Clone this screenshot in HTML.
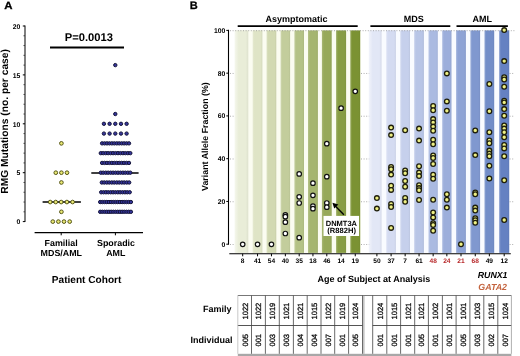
<!DOCTYPE html>
<html><head><meta charset="utf-8"><style>
html,body{margin:0;padding:0;background:#fff;width:520px;height:356px;overflow:hidden}
svg{display:block;font-family:"Liberation Sans", sans-serif;will-change:transform;text-rendering:geometricPrecision}
</style></head><body>
<svg width="520" height="356" viewBox="0 0 520 356">
<text transform="translate(4.2,9.3) scale(1.1,1)" font-size="10.4" font-weight="bold" stroke="#000" stroke-width="0.3">A</text>
<line x1="25.00" y1="25.50" x2="25.00" y2="222.10" stroke="#222" stroke-width="1.15" />
<line x1="22.80" y1="221.60" x2="25.00" y2="221.60" stroke="#000" stroke-width="1" />
<text x="20.30" y="224.30" font-size="6.8" text-anchor="end" font-weight="bold" fill="#000" >0</text>
<line x1="23.50" y1="211.82" x2="25.00" y2="211.82" stroke="#333" stroke-width="0.9" />
<line x1="23.50" y1="202.04" x2="25.00" y2="202.04" stroke="#333" stroke-width="0.9" />
<line x1="23.50" y1="192.26" x2="25.00" y2="192.26" stroke="#333" stroke-width="0.9" />
<line x1="23.50" y1="182.48" x2="25.00" y2="182.48" stroke="#333" stroke-width="0.9" />
<line x1="22.80" y1="172.70" x2="25.00" y2="172.70" stroke="#000" stroke-width="1" />
<text x="20.30" y="175.40" font-size="6.8" text-anchor="end" font-weight="bold" fill="#000" >5</text>
<line x1="23.50" y1="162.92" x2="25.00" y2="162.92" stroke="#333" stroke-width="0.9" />
<line x1="23.50" y1="153.14" x2="25.00" y2="153.14" stroke="#333" stroke-width="0.9" />
<line x1="23.50" y1="143.36" x2="25.00" y2="143.36" stroke="#333" stroke-width="0.9" />
<line x1="23.50" y1="133.58" x2="25.00" y2="133.58" stroke="#333" stroke-width="0.9" />
<line x1="22.80" y1="123.80" x2="25.00" y2="123.80" stroke="#000" stroke-width="1" />
<text x="20.30" y="126.50" font-size="6.8" text-anchor="end" font-weight="bold" fill="#000" >10</text>
<line x1="23.50" y1="114.02" x2="25.00" y2="114.02" stroke="#333" stroke-width="0.9" />
<line x1="23.50" y1="104.24" x2="25.00" y2="104.24" stroke="#333" stroke-width="0.9" />
<line x1="23.50" y1="94.46" x2="25.00" y2="94.46" stroke="#333" stroke-width="0.9" />
<line x1="23.50" y1="84.68" x2="25.00" y2="84.68" stroke="#333" stroke-width="0.9" />
<line x1="22.80" y1="74.90" x2="25.00" y2="74.90" stroke="#000" stroke-width="1" />
<text x="20.30" y="77.60" font-size="6.8" text-anchor="end" font-weight="bold" fill="#000" >15</text>
<line x1="23.50" y1="65.12" x2="25.00" y2="65.12" stroke="#333" stroke-width="0.9" />
<line x1="23.50" y1="55.34" x2="25.00" y2="55.34" stroke="#333" stroke-width="0.9" />
<line x1="23.50" y1="45.56" x2="25.00" y2="45.56" stroke="#333" stroke-width="0.9" />
<line x1="23.50" y1="35.78" x2="25.00" y2="35.78" stroke="#333" stroke-width="0.9" />
<line x1="22.80" y1="26.00" x2="25.00" y2="26.00" stroke="#000" stroke-width="1" />
<text x="20.30" y="28.70" font-size="6.8" text-anchor="end" font-weight="bold" fill="#000" >20</text>
<text transform="translate(8.4,121.4) rotate(-90)" font-size="10.25" text-anchor="middle" font-weight="bold">RMG Mutations (no. per case)</text>
<text x="88.80" y="41.30" font-size="11.2" text-anchor="middle" font-weight="bold" fill="#000" >P=0.0013</text>
<line x1="50.00" y1="47.50" x2="124.00" y2="47.50" stroke="#000" stroke-width="1.8" />
<line x1="34.60" y1="232.60" x2="143.00" y2="232.60" stroke="#000" stroke-width="1.1" />
<line x1="61.20" y1="232.60" x2="61.20" y2="235.30" stroke="#000" stroke-width="1" />
<line x1="115.40" y1="232.60" x2="115.40" y2="235.30" stroke="#000" stroke-width="1" />
<text x="61.10" y="245.80" font-size="8.9" text-anchor="middle" font-weight="bold" fill="#000" >Familial</text>
<text x="61.30" y="256.40" font-size="8.9" text-anchor="middle" font-weight="bold" fill="#000" >MDS/AML</text>
<text x="116.00" y="245.80" font-size="8.9" text-anchor="middle" font-weight="bold" fill="#000" >Sporadic</text>
<text x="115.80" y="256.40" font-size="8.9" text-anchor="middle" font-weight="bold" fill="#000" >AML</text>
<text x="86.60" y="282.80" font-size="10.1" text-anchor="middle" font-weight="bold" fill="#000" >Patient Cohort</text>
<line x1="42.60" y1="202.00" x2="80.90" y2="202.00" stroke="#000" stroke-width="1.5" />
<circle cx="61.40" cy="143.36" r="1.85" fill="#e8e874" stroke="#555518" stroke-width="1.0"/>
<circle cx="55.80" cy="172.70" r="1.85" fill="#e8e874" stroke="#555518" stroke-width="1.0"/>
<circle cx="61.40" cy="172.70" r="1.85" fill="#e8e874" stroke="#555518" stroke-width="1.0"/>
<circle cx="67.00" cy="172.70" r="1.85" fill="#e8e874" stroke="#555518" stroke-width="1.0"/>
<circle cx="61.40" cy="182.48" r="1.85" fill="#e8e874" stroke="#555518" stroke-width="1.0"/>
<circle cx="50.20" cy="202.04" r="1.85" fill="#e8e874" stroke="#555518" stroke-width="1.0"/>
<circle cx="55.70" cy="202.04" r="1.85" fill="#e8e874" stroke="#555518" stroke-width="1.0"/>
<circle cx="61.20" cy="202.04" r="1.85" fill="#e8e874" stroke="#555518" stroke-width="1.0"/>
<circle cx="66.90" cy="202.04" r="1.85" fill="#e8e874" stroke="#555518" stroke-width="1.0"/>
<circle cx="72.60" cy="202.04" r="1.85" fill="#e8e874" stroke="#555518" stroke-width="1.0"/>
<circle cx="61.40" cy="211.82" r="1.85" fill="#e8e874" stroke="#555518" stroke-width="1.0"/>
<circle cx="52.80" cy="221.60" r="1.85" fill="#e8e874" stroke="#555518" stroke-width="1.0"/>
<circle cx="58.40" cy="221.60" r="1.85" fill="#e8e874" stroke="#555518" stroke-width="1.0"/>
<circle cx="64.00" cy="221.60" r="1.85" fill="#e8e874" stroke="#555518" stroke-width="1.0"/>
<circle cx="69.70" cy="221.60" r="1.85" fill="#e8e874" stroke="#555518" stroke-width="1.0"/>
<line x1="91.30" y1="172.90" x2="138.60" y2="172.90" stroke="#000" stroke-width="1.5" />
<circle cx="115.30" cy="65.12" r="1.7" fill="#34349a" stroke="#14143a" stroke-width="1.0"/>
<circle cx="115.30" cy="114.02" r="1.7" fill="#34349a" stroke="#14143a" stroke-width="1.0"/>
<circle cx="103.90" cy="123.80" r="1.7" fill="#34349a" stroke="#14143a" stroke-width="1.0"/>
<circle cx="109.60" cy="123.80" r="1.7" fill="#34349a" stroke="#14143a" stroke-width="1.0"/>
<circle cx="115.30" cy="123.80" r="1.7" fill="#34349a" stroke="#14143a" stroke-width="1.0"/>
<circle cx="121.00" cy="123.80" r="1.7" fill="#34349a" stroke="#14143a" stroke-width="1.0"/>
<circle cx="126.60" cy="123.80" r="1.7" fill="#34349a" stroke="#14143a" stroke-width="1.0"/>
<circle cx="103.90" cy="133.58" r="1.7" fill="#34349a" stroke="#14143a" stroke-width="1.0"/>
<circle cx="109.60" cy="133.58" r="1.7" fill="#34349a" stroke="#14143a" stroke-width="1.0"/>
<circle cx="115.30" cy="133.58" r="1.7" fill="#34349a" stroke="#14143a" stroke-width="1.0"/>
<circle cx="121.00" cy="133.58" r="1.7" fill="#34349a" stroke="#14143a" stroke-width="1.0"/>
<circle cx="126.60" cy="133.58" r="1.7" fill="#34349a" stroke="#14143a" stroke-width="1.0"/>
<circle cx="102.10" cy="143.36" r="1.7" fill="#34349a" stroke="#14143a" stroke-width="1.0"/>
<circle cx="104.55" cy="143.36" r="1.7" fill="#34349a" stroke="#14143a" stroke-width="1.0"/>
<circle cx="106.99" cy="143.36" r="1.7" fill="#34349a" stroke="#14143a" stroke-width="1.0"/>
<circle cx="109.44" cy="143.36" r="1.7" fill="#34349a" stroke="#14143a" stroke-width="1.0"/>
<circle cx="111.88" cy="143.36" r="1.7" fill="#34349a" stroke="#14143a" stroke-width="1.0"/>
<circle cx="114.33" cy="143.36" r="1.7" fill="#34349a" stroke="#14143a" stroke-width="1.0"/>
<circle cx="116.77" cy="143.36" r="1.7" fill="#34349a" stroke="#14143a" stroke-width="1.0"/>
<circle cx="119.22" cy="143.36" r="1.7" fill="#34349a" stroke="#14143a" stroke-width="1.0"/>
<circle cx="121.66" cy="143.36" r="1.7" fill="#34349a" stroke="#14143a" stroke-width="1.0"/>
<circle cx="124.11" cy="143.36" r="1.7" fill="#34349a" stroke="#14143a" stroke-width="1.0"/>
<circle cx="126.55" cy="143.36" r="1.7" fill="#34349a" stroke="#14143a" stroke-width="1.0"/>
<circle cx="129.00" cy="143.36" r="1.7" fill="#34349a" stroke="#14143a" stroke-width="1.0"/>
<circle cx="100.80" cy="153.14" r="1.7" fill="#34349a" stroke="#14143a" stroke-width="1.0"/>
<circle cx="103.26" cy="153.14" r="1.7" fill="#34349a" stroke="#14143a" stroke-width="1.0"/>
<circle cx="105.72" cy="153.14" r="1.7" fill="#34349a" stroke="#14143a" stroke-width="1.0"/>
<circle cx="108.17" cy="153.14" r="1.7" fill="#34349a" stroke="#14143a" stroke-width="1.0"/>
<circle cx="110.63" cy="153.14" r="1.7" fill="#34349a" stroke="#14143a" stroke-width="1.0"/>
<circle cx="113.09" cy="153.14" r="1.7" fill="#34349a" stroke="#14143a" stroke-width="1.0"/>
<circle cx="115.55" cy="153.14" r="1.7" fill="#34349a" stroke="#14143a" stroke-width="1.0"/>
<circle cx="118.01" cy="153.14" r="1.7" fill="#34349a" stroke="#14143a" stroke-width="1.0"/>
<circle cx="120.47" cy="153.14" r="1.7" fill="#34349a" stroke="#14143a" stroke-width="1.0"/>
<circle cx="122.93" cy="153.14" r="1.7" fill="#34349a" stroke="#14143a" stroke-width="1.0"/>
<circle cx="125.38" cy="153.14" r="1.7" fill="#34349a" stroke="#14143a" stroke-width="1.0"/>
<circle cx="127.84" cy="153.14" r="1.7" fill="#34349a" stroke="#14143a" stroke-width="1.0"/>
<circle cx="130.30" cy="153.14" r="1.7" fill="#34349a" stroke="#14143a" stroke-width="1.0"/>
<circle cx="102.10" cy="162.92" r="1.7" fill="#34349a" stroke="#14143a" stroke-width="1.0"/>
<circle cx="104.55" cy="162.92" r="1.7" fill="#34349a" stroke="#14143a" stroke-width="1.0"/>
<circle cx="106.99" cy="162.92" r="1.7" fill="#34349a" stroke="#14143a" stroke-width="1.0"/>
<circle cx="109.44" cy="162.92" r="1.7" fill="#34349a" stroke="#14143a" stroke-width="1.0"/>
<circle cx="111.88" cy="162.92" r="1.7" fill="#34349a" stroke="#14143a" stroke-width="1.0"/>
<circle cx="114.33" cy="162.92" r="1.7" fill="#34349a" stroke="#14143a" stroke-width="1.0"/>
<circle cx="116.77" cy="162.92" r="1.7" fill="#34349a" stroke="#14143a" stroke-width="1.0"/>
<circle cx="119.22" cy="162.92" r="1.7" fill="#34349a" stroke="#14143a" stroke-width="1.0"/>
<circle cx="121.66" cy="162.92" r="1.7" fill="#34349a" stroke="#14143a" stroke-width="1.0"/>
<circle cx="124.11" cy="162.92" r="1.7" fill="#34349a" stroke="#14143a" stroke-width="1.0"/>
<circle cx="126.55" cy="162.92" r="1.7" fill="#34349a" stroke="#14143a" stroke-width="1.0"/>
<circle cx="129.00" cy="162.92" r="1.7" fill="#34349a" stroke="#14143a" stroke-width="1.0"/>
<circle cx="100.80" cy="172.70" r="1.7" fill="#34349a" stroke="#14143a" stroke-width="1.0"/>
<circle cx="103.26" cy="172.70" r="1.7" fill="#34349a" stroke="#14143a" stroke-width="1.0"/>
<circle cx="105.72" cy="172.70" r="1.7" fill="#34349a" stroke="#14143a" stroke-width="1.0"/>
<circle cx="108.17" cy="172.70" r="1.7" fill="#34349a" stroke="#14143a" stroke-width="1.0"/>
<circle cx="110.63" cy="172.70" r="1.7" fill="#34349a" stroke="#14143a" stroke-width="1.0"/>
<circle cx="113.09" cy="172.70" r="1.7" fill="#34349a" stroke="#14143a" stroke-width="1.0"/>
<circle cx="115.55" cy="172.70" r="1.7" fill="#34349a" stroke="#14143a" stroke-width="1.0"/>
<circle cx="118.01" cy="172.70" r="1.7" fill="#34349a" stroke="#14143a" stroke-width="1.0"/>
<circle cx="120.47" cy="172.70" r="1.7" fill="#34349a" stroke="#14143a" stroke-width="1.0"/>
<circle cx="122.93" cy="172.70" r="1.7" fill="#34349a" stroke="#14143a" stroke-width="1.0"/>
<circle cx="125.38" cy="172.70" r="1.7" fill="#34349a" stroke="#14143a" stroke-width="1.0"/>
<circle cx="127.84" cy="172.70" r="1.7" fill="#34349a" stroke="#14143a" stroke-width="1.0"/>
<circle cx="130.30" cy="172.70" r="1.7" fill="#34349a" stroke="#14143a" stroke-width="1.0"/>
<circle cx="101.80" cy="182.48" r="1.7" fill="#34349a" stroke="#14143a" stroke-width="1.0"/>
<circle cx="104.29" cy="182.48" r="1.7" fill="#34349a" stroke="#14143a" stroke-width="1.0"/>
<circle cx="106.78" cy="182.48" r="1.7" fill="#34349a" stroke="#14143a" stroke-width="1.0"/>
<circle cx="109.27" cy="182.48" r="1.7" fill="#34349a" stroke="#14143a" stroke-width="1.0"/>
<circle cx="111.76" cy="182.48" r="1.7" fill="#34349a" stroke="#14143a" stroke-width="1.0"/>
<circle cx="114.25" cy="182.48" r="1.7" fill="#34349a" stroke="#14143a" stroke-width="1.0"/>
<circle cx="116.75" cy="182.48" r="1.7" fill="#34349a" stroke="#14143a" stroke-width="1.0"/>
<circle cx="119.24" cy="182.48" r="1.7" fill="#34349a" stroke="#14143a" stroke-width="1.0"/>
<circle cx="121.73" cy="182.48" r="1.7" fill="#34349a" stroke="#14143a" stroke-width="1.0"/>
<circle cx="124.22" cy="182.48" r="1.7" fill="#34349a" stroke="#14143a" stroke-width="1.0"/>
<circle cx="126.71" cy="182.48" r="1.7" fill="#34349a" stroke="#14143a" stroke-width="1.0"/>
<circle cx="129.20" cy="182.48" r="1.7" fill="#34349a" stroke="#14143a" stroke-width="1.0"/>
<circle cx="101.20" cy="192.26" r="1.7" fill="#34349a" stroke="#14143a" stroke-width="1.0"/>
<circle cx="103.58" cy="192.26" r="1.7" fill="#34349a" stroke="#14143a" stroke-width="1.0"/>
<circle cx="105.95" cy="192.26" r="1.7" fill="#34349a" stroke="#14143a" stroke-width="1.0"/>
<circle cx="108.33" cy="192.26" r="1.7" fill="#34349a" stroke="#14143a" stroke-width="1.0"/>
<circle cx="110.70" cy="192.26" r="1.7" fill="#34349a" stroke="#14143a" stroke-width="1.0"/>
<circle cx="113.07" cy="192.26" r="1.7" fill="#34349a" stroke="#14143a" stroke-width="1.0"/>
<circle cx="115.45" cy="192.26" r="1.7" fill="#34349a" stroke="#14143a" stroke-width="1.0"/>
<circle cx="117.82" cy="192.26" r="1.7" fill="#34349a" stroke="#14143a" stroke-width="1.0"/>
<circle cx="120.20" cy="192.26" r="1.7" fill="#34349a" stroke="#14143a" stroke-width="1.0"/>
<circle cx="122.57" cy="192.26" r="1.7" fill="#34349a" stroke="#14143a" stroke-width="1.0"/>
<circle cx="124.95" cy="192.26" r="1.7" fill="#34349a" stroke="#14143a" stroke-width="1.0"/>
<circle cx="127.32" cy="192.26" r="1.7" fill="#34349a" stroke="#14143a" stroke-width="1.0"/>
<circle cx="129.70" cy="192.26" r="1.7" fill="#34349a" stroke="#14143a" stroke-width="1.0"/>
<circle cx="100.20" cy="202.04" r="1.7" fill="#34349a" stroke="#14143a" stroke-width="1.0"/>
<circle cx="102.39" cy="202.04" r="1.7" fill="#34349a" stroke="#14143a" stroke-width="1.0"/>
<circle cx="104.59" cy="202.04" r="1.7" fill="#34349a" stroke="#14143a" stroke-width="1.0"/>
<circle cx="106.78" cy="202.04" r="1.7" fill="#34349a" stroke="#14143a" stroke-width="1.0"/>
<circle cx="108.97" cy="202.04" r="1.7" fill="#34349a" stroke="#14143a" stroke-width="1.0"/>
<circle cx="111.16" cy="202.04" r="1.7" fill="#34349a" stroke="#14143a" stroke-width="1.0"/>
<circle cx="113.36" cy="202.04" r="1.7" fill="#34349a" stroke="#14143a" stroke-width="1.0"/>
<circle cx="115.55" cy="202.04" r="1.7" fill="#34349a" stroke="#14143a" stroke-width="1.0"/>
<circle cx="117.74" cy="202.04" r="1.7" fill="#34349a" stroke="#14143a" stroke-width="1.0"/>
<circle cx="119.94" cy="202.04" r="1.7" fill="#34349a" stroke="#14143a" stroke-width="1.0"/>
<circle cx="122.13" cy="202.04" r="1.7" fill="#34349a" stroke="#14143a" stroke-width="1.0"/>
<circle cx="124.32" cy="202.04" r="1.7" fill="#34349a" stroke="#14143a" stroke-width="1.0"/>
<circle cx="126.51" cy="202.04" r="1.7" fill="#34349a" stroke="#14143a" stroke-width="1.0"/>
<circle cx="128.71" cy="202.04" r="1.7" fill="#34349a" stroke="#14143a" stroke-width="1.0"/>
<circle cx="130.90" cy="202.04" r="1.7" fill="#34349a" stroke="#14143a" stroke-width="1.0"/>
<circle cx="100.20" cy="211.82" r="1.7" fill="#34349a" stroke="#14143a" stroke-width="1.0"/>
<circle cx="102.39" cy="211.82" r="1.7" fill="#34349a" stroke="#14143a" stroke-width="1.0"/>
<circle cx="104.59" cy="211.82" r="1.7" fill="#34349a" stroke="#14143a" stroke-width="1.0"/>
<circle cx="106.78" cy="211.82" r="1.7" fill="#34349a" stroke="#14143a" stroke-width="1.0"/>
<circle cx="108.97" cy="211.82" r="1.7" fill="#34349a" stroke="#14143a" stroke-width="1.0"/>
<circle cx="111.16" cy="211.82" r="1.7" fill="#34349a" stroke="#14143a" stroke-width="1.0"/>
<circle cx="113.36" cy="211.82" r="1.7" fill="#34349a" stroke="#14143a" stroke-width="1.0"/>
<circle cx="115.55" cy="211.82" r="1.7" fill="#34349a" stroke="#14143a" stroke-width="1.0"/>
<circle cx="117.74" cy="211.82" r="1.7" fill="#34349a" stroke="#14143a" stroke-width="1.0"/>
<circle cx="119.94" cy="211.82" r="1.7" fill="#34349a" stroke="#14143a" stroke-width="1.0"/>
<circle cx="122.13" cy="211.82" r="1.7" fill="#34349a" stroke="#14143a" stroke-width="1.0"/>
<circle cx="124.32" cy="211.82" r="1.7" fill="#34349a" stroke="#14143a" stroke-width="1.0"/>
<circle cx="126.51" cy="211.82" r="1.7" fill="#34349a" stroke="#14143a" stroke-width="1.0"/>
<circle cx="128.71" cy="211.82" r="1.7" fill="#34349a" stroke="#14143a" stroke-width="1.0"/>
<circle cx="130.90" cy="211.82" r="1.7" fill="#34349a" stroke="#14143a" stroke-width="1.0"/>
<text transform="translate(189.7,8.9) scale(1.02,1)" font-size="10.8" font-weight="bold" stroke="#000" stroke-width="0.25">B</text>
<rect x="235" y="30.4" width="126" height="222.5" fill="#fbfcf1"/>
<rect x="369" y="30.4" width="141" height="222.5" fill="#f9fbff"/>
<defs>
<linearGradient id="g0" x1="0" x2="1" y1="0" y2="0"><stop offset="0" stop-color="#f5f7ed"/><stop offset="0.3" stop-color="#e9edd8"/><stop offset="0.82" stop-color="#e9edd8"/><stop offset="1" stop-color="#dde1cd"/></linearGradient>
<linearGradient id="g1" x1="0" x2="1" y1="0" y2="0"><stop offset="0" stop-color="#e5e9d0"/><stop offset="0.2" stop-color="#dfe4c6"/><stop offset="0.82" stop-color="#dfe4c6"/><stop offset="1" stop-color="#d4d9bc"/></linearGradient>
<linearGradient id="g2" x1="0" x2="1" y1="0" y2="0"><stop offset="0" stop-color="#dae0c0"/><stop offset="0.2" stop-color="#d2d9b2"/><stop offset="0.82" stop-color="#d2d9b2"/><stop offset="1" stop-color="#c8cea9"/></linearGradient>
<linearGradient id="g3" x1="0" x2="1" y1="0" y2="0"><stop offset="0" stop-color="#ced6ae"/><stop offset="0.2" stop-color="#c3cd9c"/><stop offset="0.82" stop-color="#c3cd9c"/><stop offset="1" stop-color="#b9c394"/></linearGradient>
<linearGradient id="g4" x1="0" x2="1" y1="0" y2="0"><stop offset="0" stop-color="#c2cd9c"/><stop offset="0.2" stop-color="#b4c286"/><stop offset="0.82" stop-color="#b4c286"/><stop offset="1" stop-color="#abb87f"/></linearGradient>
<linearGradient id="g5" x1="0" x2="1" y1="0" y2="0"><stop offset="0" stop-color="#b5c289"/><stop offset="0.2" stop-color="#a5b56f"/><stop offset="0.82" stop-color="#a5b56f"/><stop offset="1" stop-color="#9dac69"/></linearGradient>
<linearGradient id="g6" x1="0" x2="1" y1="0" y2="0"><stop offset="0" stop-color="#aab878"/><stop offset="0.2" stop-color="#97a95a"/><stop offset="0.82" stop-color="#97a95a"/><stop offset="1" stop-color="#8fa156"/></linearGradient>
<linearGradient id="g7" x1="0" x2="1" y1="0" y2="0"><stop offset="0" stop-color="#9daf66"/><stop offset="0.2" stop-color="#889d44"/><stop offset="0.82" stop-color="#889d44"/><stop offset="1" stop-color="#819541"/></linearGradient>
<linearGradient id="g8" x1="0" x2="1" y1="0" y2="0"><stop offset="0" stop-color="#93a658"/><stop offset="0.2" stop-color="#7b9233"/><stop offset="0.82" stop-color="#7b9233"/><stop offset="1" stop-color="#758b30"/></linearGradient>
<linearGradient id="g9" x1="0" x2="1" y1="0" y2="0"><stop offset="0" stop-color="#f2f4fb"/><stop offset="0.3" stop-color="#e2e7f6"/><stop offset="0.82" stop-color="#e2e7f6"/><stop offset="1" stop-color="#d7dbea"/></linearGradient>
<linearGradient id="g10" x1="0" x2="1" y1="0" y2="0"><stop offset="0" stop-color="#dce1f4"/><stop offset="0.2" stop-color="#d4dbf1"/><stop offset="0.82" stop-color="#d4dbf1"/><stop offset="1" stop-color="#c9d0e5"/></linearGradient>
<linearGradient id="g11" x1="0" x2="1" y1="0" y2="0"><stop offset="0" stop-color="#d0d8ef"/><stop offset="0.2" stop-color="#c6d0ec"/><stop offset="0.82" stop-color="#c6d0ec"/><stop offset="1" stop-color="#bcc6e0"/></linearGradient>
<linearGradient id="g12" x1="0" x2="1" y1="0" y2="0"><stop offset="0" stop-color="#c5cfeb"/><stop offset="0.2" stop-color="#b8c5e6"/><stop offset="0.82" stop-color="#b8c5e6"/><stop offset="1" stop-color="#afbbda"/></linearGradient>
<linearGradient id="g13" x1="0" x2="1" y1="0" y2="0"><stop offset="0" stop-color="#b9c6e6"/><stop offset="0.2" stop-color="#aabae1"/><stop offset="0.82" stop-color="#aabae1"/><stop offset="1" stop-color="#a2b1d6"/></linearGradient>
<linearGradient id="g14" x1="0" x2="1" y1="0" y2="0"><stop offset="0" stop-color="#aebde1"/><stop offset="0.2" stop-color="#9caedb"/><stop offset="0.82" stop-color="#9caedb"/><stop offset="1" stop-color="#94a5d0"/></linearGradient>
<linearGradient id="g15" x1="0" x2="1" y1="0" y2="0"><stop offset="0" stop-color="#a2b4dd"/><stop offset="0.2" stop-color="#8ea3d5"/><stop offset="0.82" stop-color="#8ea3d5"/><stop offset="1" stop-color="#879bca"/></linearGradient>
<linearGradient id="g16" x1="0" x2="1" y1="0" y2="0"><stop offset="0" stop-color="#97abd8"/><stop offset="0.2" stop-color="#8098cf"/><stop offset="0.82" stop-color="#8098cf"/><stop offset="1" stop-color="#7a90c5"/></linearGradient>
<linearGradient id="g17" x1="0" x2="1" y1="0" y2="0"><stop offset="0" stop-color="#8ba2d2"/><stop offset="0.2" stop-color="#728dc8"/><stop offset="0.82" stop-color="#728dc8"/><stop offset="1" stop-color="#6c86be"/></linearGradient>
<linearGradient id="g18" x1="0" x2="1" y1="0" y2="0"><stop offset="0" stop-color="#8198cd"/><stop offset="0.2" stop-color="#6581c2"/><stop offset="0.82" stop-color="#6581c2"/><stop offset="1" stop-color="#607bb8"/></linearGradient>
</defs>
<rect x="234.60" y="30.4" width="13.70" height="222.50" fill="url(#g0)"/>
<rect x="252.70" y="30.4" width="9.70" height="222.50" fill="url(#g1)"/>
<rect x="266.60" y="30.4" width="9.70" height="222.50" fill="url(#g2)"/>
<rect x="280.60" y="30.4" width="9.50" height="222.50" fill="url(#g3)"/>
<rect x="294.40" y="30.4" width="9.60" height="222.50" fill="url(#g4)"/>
<rect x="308.00" y="30.4" width="9.90" height="222.50" fill="url(#g5)"/>
<rect x="321.90" y="30.4" width="9.80" height="222.50" fill="url(#g6)"/>
<rect x="336.10" y="30.4" width="10.00" height="222.50" fill="url(#g7)"/>
<rect x="350.30" y="30.4" width="9.90" height="222.50" fill="url(#g8)"/>
<rect x="368.80" y="30.4" width="12.80" height="222.50" fill="url(#g9)"/>
<rect x="386.30" y="30.4" width="9.60" height="222.50" fill="url(#g10)"/>
<rect x="400.30" y="30.4" width="9.70" height="222.50" fill="url(#g11)"/>
<rect x="414.20" y="30.4" width="9.70" height="222.50" fill="url(#g12)"/>
<rect x="428.50" y="30.4" width="9.30" height="222.50" fill="url(#g13)"/>
<rect x="442.20" y="30.4" width="9.30" height="222.50" fill="url(#g14)"/>
<rect x="456.10" y="30.4" width="9.80" height="222.50" fill="url(#g15)"/>
<rect x="470.40" y="30.4" width="9.70" height="222.50" fill="url(#g16)"/>
<rect x="484.50" y="30.4" width="9.70" height="222.50" fill="url(#g17)"/>
<rect x="499.20" y="30.4" width="10.00" height="222.50" fill="url(#g18)"/>
<line x1="230.00" y1="244.50" x2="235.00" y2="244.50" stroke="#8a8a8a" stroke-width="0.7" stroke-dasharray="1 1.6"/>
<line x1="361.00" y1="244.50" x2="369.20" y2="244.50" stroke="#8a8a8a" stroke-width="0.7" stroke-dasharray="1 1.6"/>
<line x1="509.60" y1="244.50" x2="514.50" y2="244.50" stroke="#8a8a8a" stroke-width="0.7" stroke-dasharray="1 1.6"/>
<line x1="230.00" y1="201.74" x2="235.00" y2="201.74" stroke="#8a8a8a" stroke-width="0.7" stroke-dasharray="1 1.6"/>
<line x1="361.00" y1="201.74" x2="369.20" y2="201.74" stroke="#8a8a8a" stroke-width="0.7" stroke-dasharray="1 1.6"/>
<line x1="509.60" y1="201.74" x2="514.50" y2="201.74" stroke="#8a8a8a" stroke-width="0.7" stroke-dasharray="1 1.6"/>
<line x1="230.00" y1="158.98" x2="235.00" y2="158.98" stroke="#8a8a8a" stroke-width="0.7" stroke-dasharray="1 1.6"/>
<line x1="361.00" y1="158.98" x2="369.20" y2="158.98" stroke="#8a8a8a" stroke-width="0.7" stroke-dasharray="1 1.6"/>
<line x1="509.60" y1="158.98" x2="514.50" y2="158.98" stroke="#8a8a8a" stroke-width="0.7" stroke-dasharray="1 1.6"/>
<line x1="230.00" y1="116.22" x2="235.00" y2="116.22" stroke="#8a8a8a" stroke-width="0.7" stroke-dasharray="1 1.6"/>
<line x1="361.00" y1="116.22" x2="369.20" y2="116.22" stroke="#8a8a8a" stroke-width="0.7" stroke-dasharray="1 1.6"/>
<line x1="509.60" y1="116.22" x2="514.50" y2="116.22" stroke="#8a8a8a" stroke-width="0.7" stroke-dasharray="1 1.6"/>
<line x1="230.00" y1="73.46" x2="235.00" y2="73.46" stroke="#8a8a8a" stroke-width="0.7" stroke-dasharray="1 1.6"/>
<line x1="361.00" y1="73.46" x2="369.20" y2="73.46" stroke="#8a8a8a" stroke-width="0.7" stroke-dasharray="1 1.6"/>
<line x1="509.60" y1="73.46" x2="514.50" y2="73.46" stroke="#8a8a8a" stroke-width="0.7" stroke-dasharray="1 1.6"/>
<line x1="230.00" y1="30.70" x2="514.50" y2="30.70" stroke="#8a8a8a" stroke-width="0.7" stroke-dasharray="1 1.6"/>
<line x1="228.50" y1="29.80" x2="228.50" y2="244.70" stroke="#000" stroke-width="1.1" />
<line x1="226.30" y1="244.20" x2="228.50" y2="244.20" stroke="#000" stroke-width="1" />
<text x="225.30" y="246.60" font-size="6.8" text-anchor="end" font-weight="bold" fill="#000" >0</text>
<line x1="226.30" y1="201.44" x2="228.50" y2="201.44" stroke="#000" stroke-width="1" />
<text x="225.30" y="203.84" font-size="6.8" text-anchor="end" font-weight="bold" fill="#000" >20</text>
<line x1="226.30" y1="158.68" x2="228.50" y2="158.68" stroke="#000" stroke-width="1" />
<text x="225.30" y="161.08" font-size="6.8" text-anchor="end" font-weight="bold" fill="#000" >40</text>
<line x1="226.30" y1="115.92" x2="228.50" y2="115.92" stroke="#000" stroke-width="1" />
<text x="225.30" y="118.32" font-size="6.8" text-anchor="end" font-weight="bold" fill="#000" >60</text>
<line x1="226.30" y1="73.16" x2="228.50" y2="73.16" stroke="#000" stroke-width="1" />
<text x="225.30" y="75.56" font-size="6.8" text-anchor="end" font-weight="bold" fill="#000" >80</text>
<line x1="226.30" y1="30.40" x2="228.50" y2="30.40" stroke="#000" stroke-width="1" />
<text x="225.30" y="32.80" font-size="6.8" text-anchor="end" font-weight="bold" fill="#000" >100</text>
<text transform="translate(208.1,136.6) rotate(-90)" font-size="8.85" text-anchor="middle" font-weight="bold">Variant Allele Fraction (%)</text>
<line x1="229.30" y1="253.70" x2="510.80" y2="253.70" stroke="#000" stroke-width="1.1" />
<line x1="242.70" y1="253.70" x2="242.70" y2="256.30" stroke="#000" stroke-width="1" />
<text x="242.70" y="262.90" font-size="6.6" text-anchor="middle" font-weight="bold" fill="#000" >8</text>
<line x1="257.55" y1="253.70" x2="257.55" y2="256.30" stroke="#000" stroke-width="1" />
<text x="257.55" y="262.90" font-size="6.6" text-anchor="middle" font-weight="bold" fill="#000" >41</text>
<line x1="271.45" y1="253.70" x2="271.45" y2="256.30" stroke="#000" stroke-width="1" />
<text x="271.45" y="262.90" font-size="6.6" text-anchor="middle" font-weight="bold" fill="#000" >54</text>
<line x1="285.35" y1="253.70" x2="285.35" y2="256.30" stroke="#000" stroke-width="1" />
<text x="285.35" y="262.90" font-size="6.6" text-anchor="middle" font-weight="bold" fill="#000" >40</text>
<line x1="299.20" y1="253.70" x2="299.20" y2="256.30" stroke="#000" stroke-width="1" />
<text x="299.20" y="262.90" font-size="6.6" text-anchor="middle" font-weight="bold" fill="#000" >35</text>
<line x1="312.95" y1="253.70" x2="312.95" y2="256.30" stroke="#000" stroke-width="1" />
<text x="312.95" y="262.90" font-size="6.6" text-anchor="middle" font-weight="bold" fill="#000" >18</text>
<line x1="326.80" y1="253.70" x2="326.80" y2="256.30" stroke="#000" stroke-width="1" />
<text x="326.80" y="262.90" font-size="6.6" text-anchor="middle" font-weight="bold" fill="#000" >46</text>
<line x1="341.10" y1="253.70" x2="341.10" y2="256.30" stroke="#000" stroke-width="1" />
<text x="341.10" y="262.90" font-size="6.6" text-anchor="middle" font-weight="bold" fill="#000" >14</text>
<line x1="355.25" y1="253.70" x2="355.25" y2="256.30" stroke="#000" stroke-width="1" />
<text x="355.25" y="262.90" font-size="6.6" text-anchor="middle" font-weight="bold" fill="#000" >19</text>
<line x1="376.90" y1="253.70" x2="376.90" y2="256.30" stroke="#000" stroke-width="1" />
<text x="376.90" y="262.90" font-size="6.6" text-anchor="middle" font-weight="bold" fill="#000" >50</text>
<line x1="391.10" y1="253.70" x2="391.10" y2="256.30" stroke="#000" stroke-width="1" />
<text x="391.10" y="262.90" font-size="6.6" text-anchor="middle" font-weight="bold" fill="#000" >37</text>
<line x1="405.15" y1="253.70" x2="405.15" y2="256.30" stroke="#000" stroke-width="1" />
<text x="405.15" y="262.90" font-size="6.6" text-anchor="middle" font-weight="bold" fill="#000" >7</text>
<line x1="419.05" y1="253.70" x2="419.05" y2="256.30" stroke="#000" stroke-width="1" />
<text x="419.05" y="262.90" font-size="6.6" text-anchor="middle" font-weight="bold" fill="#000" >61</text>
<line x1="433.15" y1="253.70" x2="433.15" y2="256.30" stroke="#000" stroke-width="1" />
<text x="433.15" y="262.90" font-size="6.6" text-anchor="middle" font-weight="bold" fill="#b82a2c" >48</text>
<line x1="446.85" y1="253.70" x2="446.85" y2="256.30" stroke="#000" stroke-width="1" />
<text x="446.85" y="262.90" font-size="6.6" text-anchor="middle" font-weight="bold" fill="#b82a2c" >24</text>
<line x1="461.00" y1="253.70" x2="461.00" y2="256.30" stroke="#000" stroke-width="1" />
<text x="461.00" y="262.90" font-size="6.6" text-anchor="middle" font-weight="bold" fill="#b82a2c" >21</text>
<line x1="475.25" y1="253.70" x2="475.25" y2="256.30" stroke="#000" stroke-width="1" />
<text x="475.25" y="262.90" font-size="6.6" text-anchor="middle" font-weight="bold" fill="#b82a2c" >68</text>
<line x1="489.35" y1="253.70" x2="489.35" y2="256.30" stroke="#000" stroke-width="1" />
<text x="489.35" y="262.90" font-size="6.6" text-anchor="middle" font-weight="bold" fill="#000" >49</text>
<line x1="504.20" y1="253.70" x2="504.20" y2="256.30" stroke="#000" stroke-width="1" />
<text x="504.20" y="262.90" font-size="6.6" text-anchor="middle" font-weight="bold" fill="#000" >12</text>
<text x="373.90" y="281.70" font-size="9" text-anchor="middle" font-weight="bold" fill="#000" >Age of Subject at Analysis</text>
<text x="507.50" y="277.70" font-size="8.8" text-anchor="end" font-weight="bold" fill="#000" font-style="italic">RUNX1</text>
<text x="507.00" y="289.60" font-size="8.9" text-anchor="end" font-weight="bold" fill="#c4643f" font-style="italic">GATA2</text>
<text x="296.40" y="21.80" font-size="9" text-anchor="middle" font-weight="bold" fill="#000" >Asymptomatic</text>
<line x1="237.70" y1="26.10" x2="357.70" y2="26.10" stroke="#000" stroke-width="1.9" />
<text x="413.70" y="21.80" font-size="9" text-anchor="middle" font-weight="bold" fill="#000" >MDS</text>
<line x1="370.40" y1="26.10" x2="450.30" y2="26.10" stroke="#000" stroke-width="1.9" />
<text x="482.30" y="21.80" font-size="9" text-anchor="middle" font-weight="bold" fill="#000" >AML</text>
<line x1="456.50" y1="26.10" x2="507.90" y2="26.10" stroke="#000" stroke-width="1.9" />
<circle cx="242.70" cy="244.30" r="2.25" fill="#fff" stroke="#111" stroke-width="1.2"/>
<circle cx="257.55" cy="244.30" r="2.25" fill="#fff" stroke="#111" stroke-width="1.2"/>
<circle cx="271.45" cy="244.30" r="2.25" fill="#fff" stroke="#111" stroke-width="1.2"/>
<circle cx="285.35" cy="214.90" r="2.25" fill="#fff" stroke="#111" stroke-width="1.2"/>
<circle cx="285.35" cy="216.70" r="2.25" fill="#fff" stroke="#111" stroke-width="1.2"/>
<circle cx="285.35" cy="222.20" r="2.25" fill="#fff" stroke="#111" stroke-width="1.2"/>
<circle cx="285.35" cy="233.50" r="2.25" fill="#fff" stroke="#111" stroke-width="1.2"/>
<circle cx="299.20" cy="173.90" r="2.25" fill="#fff" stroke="#111" stroke-width="1.2"/>
<circle cx="299.20" cy="196.80" r="2.25" fill="#fff" stroke="#111" stroke-width="1.2"/>
<circle cx="299.20" cy="203.00" r="2.25" fill="#fff" stroke="#111" stroke-width="1.2"/>
<circle cx="299.20" cy="237.70" r="2.25" fill="#fff" stroke="#111" stroke-width="1.2"/>
<circle cx="312.95" cy="183.20" r="2.25" fill="#fff" stroke="#111" stroke-width="1.2"/>
<circle cx="312.95" cy="195.30" r="2.25" fill="#fff" stroke="#111" stroke-width="1.2"/>
<circle cx="312.95" cy="206.10" r="2.25" fill="#fff" stroke="#111" stroke-width="1.2"/>
<circle cx="312.95" cy="208.70" r="2.25" fill="#fff" stroke="#111" stroke-width="1.2"/>
<circle cx="326.80" cy="143.70" r="2.25" fill="#fff" stroke="#111" stroke-width="1.2"/>
<circle cx="326.80" cy="176.70" r="2.25" fill="#fff" stroke="#111" stroke-width="1.2"/>
<circle cx="326.80" cy="203.00" r="2.25" fill="#fff" stroke="#111" stroke-width="1.2"/>
<circle cx="326.80" cy="207.20" r="2.25" fill="#fff" stroke="#111" stroke-width="1.2"/>
<circle cx="341.10" cy="108.20" r="2.25" fill="#fff" stroke="#111" stroke-width="1.2"/>
<circle cx="355.25" cy="91.30" r="2.25" fill="#fff" stroke="#111" stroke-width="1.2"/>
<rect x="323.5" y="215.9" width="35.6" height="20.1" fill="#fff"/>
<text x="341.40" y="225.50" font-size="7.5" text-anchor="middle" font-weight="bold" fill="#000" >DNMT3A</text>
<text x="341.60" y="233.00" font-size="7.6" text-anchor="middle" font-weight="bold" fill="#000" >(R882H)</text>
<line x1="343.90" y1="214.70" x2="335.00" y2="205.80" stroke="#000" stroke-width="1.4" />
<polygon points="332.4,202.8 338.4,204.4 334.2,208.6" fill="#000"/>
<circle cx="376.90" cy="198.10" r="2.35" fill="#eef084" stroke="#1e1e0c" stroke-width="1.3"/>
<circle cx="376.90" cy="208.60" r="2.35" fill="#eef084" stroke="#1e1e0c" stroke-width="1.3"/>
<circle cx="391.10" cy="127.60" r="2.35" fill="#eef084" stroke="#1e1e0c" stroke-width="1.3"/>
<circle cx="391.10" cy="135.10" r="2.35" fill="#eef084" stroke="#1e1e0c" stroke-width="1.3"/>
<circle cx="391.10" cy="167.00" r="2.35" fill="#eef084" stroke="#1e1e0c" stroke-width="1.3"/>
<circle cx="391.10" cy="169.20" r="2.35" fill="#eef084" stroke="#1e1e0c" stroke-width="1.3"/>
<circle cx="391.10" cy="174.60" r="2.35" fill="#eef084" stroke="#1e1e0c" stroke-width="1.3"/>
<circle cx="391.10" cy="185.80" r="2.35" fill="#eef084" stroke="#1e1e0c" stroke-width="1.3"/>
<circle cx="391.10" cy="189.90" r="2.35" fill="#eef084" stroke="#1e1e0c" stroke-width="1.3"/>
<circle cx="391.10" cy="204.00" r="2.35" fill="#eef084" stroke="#1e1e0c" stroke-width="1.3"/>
<circle cx="391.10" cy="207.00" r="2.35" fill="#eef084" stroke="#1e1e0c" stroke-width="1.3"/>
<circle cx="391.10" cy="227.90" r="2.35" fill="#eef084" stroke="#1e1e0c" stroke-width="1.3"/>
<circle cx="405.15" cy="130.20" r="2.35" fill="#eef084" stroke="#1e1e0c" stroke-width="1.3"/>
<circle cx="405.15" cy="170.50" r="2.35" fill="#eef084" stroke="#1e1e0c" stroke-width="1.3"/>
<circle cx="405.15" cy="173.30" r="2.35" fill="#eef084" stroke="#1e1e0c" stroke-width="1.3"/>
<circle cx="405.15" cy="181.00" r="2.35" fill="#eef084" stroke="#1e1e0c" stroke-width="1.3"/>
<circle cx="405.15" cy="186.70" r="2.35" fill="#eef084" stroke="#1e1e0c" stroke-width="1.3"/>
<circle cx="405.15" cy="197.90" r="2.35" fill="#eef084" stroke="#1e1e0c" stroke-width="1.3"/>
<circle cx="405.15" cy="201.80" r="2.35" fill="#eef084" stroke="#1e1e0c" stroke-width="1.3"/>
<circle cx="419.05" cy="128.60" r="2.35" fill="#eef084" stroke="#1e1e0c" stroke-width="1.3"/>
<circle cx="419.05" cy="140.60" r="2.35" fill="#eef084" stroke="#1e1e0c" stroke-width="1.3"/>
<circle cx="419.05" cy="166.30" r="2.35" fill="#eef084" stroke="#1e1e0c" stroke-width="1.3"/>
<circle cx="419.05" cy="172.60" r="2.35" fill="#eef084" stroke="#1e1e0c" stroke-width="1.3"/>
<circle cx="419.05" cy="176.10" r="2.35" fill="#eef084" stroke="#1e1e0c" stroke-width="1.3"/>
<circle cx="419.05" cy="185.30" r="2.35" fill="#eef084" stroke="#1e1e0c" stroke-width="1.3"/>
<circle cx="419.05" cy="188.10" r="2.35" fill="#eef084" stroke="#1e1e0c" stroke-width="1.3"/>
<circle cx="419.05" cy="190.20" r="2.35" fill="#eef084" stroke="#1e1e0c" stroke-width="1.3"/>
<circle cx="419.05" cy="200.00" r="2.35" fill="#eef084" stroke="#1e1e0c" stroke-width="1.3"/>
<circle cx="433.15" cy="105.90" r="2.35" fill="#eef084" stroke="#1e1e0c" stroke-width="1.3"/>
<circle cx="433.15" cy="110.20" r="2.35" fill="#eef084" stroke="#1e1e0c" stroke-width="1.3"/>
<circle cx="433.15" cy="119.10" r="2.35" fill="#eef084" stroke="#1e1e0c" stroke-width="1.3"/>
<circle cx="433.15" cy="122.50" r="2.35" fill="#eef084" stroke="#1e1e0c" stroke-width="1.3"/>
<circle cx="433.15" cy="126.60" r="2.35" fill="#eef084" stroke="#1e1e0c" stroke-width="1.3"/>
<circle cx="433.15" cy="130.80" r="2.35" fill="#eef084" stroke="#1e1e0c" stroke-width="1.3"/>
<circle cx="433.15" cy="139.70" r="2.35" fill="#eef084" stroke="#1e1e0c" stroke-width="1.3"/>
<circle cx="433.15" cy="144.20" r="2.35" fill="#eef084" stroke="#1e1e0c" stroke-width="1.3"/>
<circle cx="433.15" cy="155.50" r="2.35" fill="#eef084" stroke="#1e1e0c" stroke-width="1.3"/>
<circle cx="433.15" cy="158.00" r="2.35" fill="#eef084" stroke="#1e1e0c" stroke-width="1.3"/>
<circle cx="433.15" cy="164.00" r="2.35" fill="#eef084" stroke="#1e1e0c" stroke-width="1.3"/>
<circle cx="433.15" cy="174.80" r="2.35" fill="#eef084" stroke="#1e1e0c" stroke-width="1.3"/>
<circle cx="433.15" cy="178.70" r="2.35" fill="#eef084" stroke="#1e1e0c" stroke-width="1.3"/>
<circle cx="433.15" cy="199.70" r="2.35" fill="#eef084" stroke="#1e1e0c" stroke-width="1.3"/>
<circle cx="433.15" cy="212.50" r="2.35" fill="#eef084" stroke="#1e1e0c" stroke-width="1.3"/>
<circle cx="433.15" cy="217.40" r="2.35" fill="#eef084" stroke="#1e1e0c" stroke-width="1.3"/>
<circle cx="433.15" cy="223.30" r="2.35" fill="#eef084" stroke="#1e1e0c" stroke-width="1.3"/>
<circle cx="433.15" cy="225.00" r="2.35" fill="#eef084" stroke="#1e1e0c" stroke-width="1.3"/>
<circle cx="433.15" cy="230.80" r="2.35" fill="#eef084" stroke="#1e1e0c" stroke-width="1.3"/>
<circle cx="446.85" cy="73.40" r="2.35" fill="#eef084" stroke="#1e1e0c" stroke-width="1.3"/>
<circle cx="446.85" cy="101.40" r="2.35" fill="#eef084" stroke="#1e1e0c" stroke-width="1.3"/>
<circle cx="446.85" cy="110.80" r="2.35" fill="#eef084" stroke="#1e1e0c" stroke-width="1.3"/>
<circle cx="446.85" cy="194.20" r="2.35" fill="#eef084" stroke="#1e1e0c" stroke-width="1.3"/>
<circle cx="446.85" cy="199.70" r="2.35" fill="#eef084" stroke="#1e1e0c" stroke-width="1.3"/>
<circle cx="446.85" cy="207.60" r="2.35" fill="#eef084" stroke="#1e1e0c" stroke-width="1.3"/>
<circle cx="461.00" cy="244.20" r="2.35" fill="#eef084" stroke="#1e1e0c" stroke-width="1.3"/>
<circle cx="475.25" cy="130.40" r="2.35" fill="#eef084" stroke="#1e1e0c" stroke-width="1.3"/>
<circle cx="475.25" cy="155.10" r="2.35" fill="#eef084" stroke="#1e1e0c" stroke-width="1.3"/>
<circle cx="475.25" cy="192.40" r="2.35" fill="#eef084" stroke="#1e1e0c" stroke-width="1.3"/>
<circle cx="475.25" cy="194.20" r="2.35" fill="#eef084" stroke="#1e1e0c" stroke-width="1.3"/>
<circle cx="475.25" cy="207.60" r="2.35" fill="#eef084" stroke="#1e1e0c" stroke-width="1.3"/>
<circle cx="475.25" cy="210.60" r="2.35" fill="#eef084" stroke="#1e1e0c" stroke-width="1.3"/>
<circle cx="475.25" cy="218.20" r="2.35" fill="#eef084" stroke="#1e1e0c" stroke-width="1.3"/>
<circle cx="475.25" cy="220.20" r="2.35" fill="#eef084" stroke="#1e1e0c" stroke-width="1.3"/>
<circle cx="475.25" cy="222.70" r="2.35" fill="#eef084" stroke="#1e1e0c" stroke-width="1.3"/>
<circle cx="489.35" cy="84.00" r="2.35" fill="#eef084" stroke="#1e1e0c" stroke-width="1.3"/>
<circle cx="489.35" cy="111.30" r="2.35" fill="#eef084" stroke="#1e1e0c" stroke-width="1.3"/>
<circle cx="489.35" cy="132.20" r="2.35" fill="#eef084" stroke="#1e1e0c" stroke-width="1.3"/>
<circle cx="489.35" cy="140.50" r="2.35" fill="#eef084" stroke="#1e1e0c" stroke-width="1.3"/>
<circle cx="489.35" cy="143.20" r="2.35" fill="#eef084" stroke="#1e1e0c" stroke-width="1.3"/>
<circle cx="489.35" cy="150.60" r="2.35" fill="#eef084" stroke="#1e1e0c" stroke-width="1.3"/>
<circle cx="489.35" cy="153.60" r="2.35" fill="#eef084" stroke="#1e1e0c" stroke-width="1.3"/>
<circle cx="489.35" cy="156.20" r="2.35" fill="#eef084" stroke="#1e1e0c" stroke-width="1.3"/>
<circle cx="489.35" cy="165.80" r="2.35" fill="#eef084" stroke="#1e1e0c" stroke-width="1.3"/>
<circle cx="489.35" cy="178.50" r="2.35" fill="#eef084" stroke="#1e1e0c" stroke-width="1.3"/>
<circle cx="504.20" cy="30.10" r="2.35" fill="#eef084" stroke="#1e1e0c" stroke-width="1.3"/>
<circle cx="504.20" cy="61.10" r="2.35" fill="#eef084" stroke="#1e1e0c" stroke-width="1.3"/>
<circle cx="504.20" cy="77.30" r="2.35" fill="#eef084" stroke="#1e1e0c" stroke-width="1.3"/>
<circle cx="504.20" cy="79.50" r="2.35" fill="#eef084" stroke="#1e1e0c" stroke-width="1.3"/>
<circle cx="504.20" cy="86.70" r="2.35" fill="#eef084" stroke="#1e1e0c" stroke-width="1.3"/>
<circle cx="504.20" cy="100.80" r="2.35" fill="#eef084" stroke="#1e1e0c" stroke-width="1.3"/>
<circle cx="504.20" cy="102.40" r="2.35" fill="#eef084" stroke="#1e1e0c" stroke-width="1.3"/>
<circle cx="504.20" cy="109.10" r="2.35" fill="#eef084" stroke="#1e1e0c" stroke-width="1.3"/>
<circle cx="504.20" cy="115.80" r="2.35" fill="#eef084" stroke="#1e1e0c" stroke-width="1.3"/>
<circle cx="504.20" cy="125.50" r="2.35" fill="#eef084" stroke="#1e1e0c" stroke-width="1.3"/>
<circle cx="504.20" cy="128.60" r="2.35" fill="#eef084" stroke="#1e1e0c" stroke-width="1.3"/>
<circle cx="504.20" cy="132.20" r="2.35" fill="#eef084" stroke="#1e1e0c" stroke-width="1.3"/>
<circle cx="504.20" cy="137.20" r="2.35" fill="#eef084" stroke="#1e1e0c" stroke-width="1.3"/>
<circle cx="504.20" cy="145.00" r="2.35" fill="#eef084" stroke="#1e1e0c" stroke-width="1.3"/>
<circle cx="504.20" cy="148.40" r="2.35" fill="#eef084" stroke="#1e1e0c" stroke-width="1.3"/>
<circle cx="504.20" cy="156.20" r="2.35" fill="#eef084" stroke="#1e1e0c" stroke-width="1.3"/>
<circle cx="504.20" cy="180.20" r="2.35" fill="#eef084" stroke="#1e1e0c" stroke-width="1.3"/>
<circle cx="504.20" cy="220.00" r="2.35" fill="#eef084" stroke="#1e1e0c" stroke-width="1.3"/>
<text x="231.60" y="312.20" font-size="9" text-anchor="end" font-weight="bold" fill="#000" >Family</text>
<text x="232.60" y="343.20" font-size="9" text-anchor="end" font-weight="bold" fill="#000" >Individual</text>
<text transform="translate(247.55,311.10) rotate(-90)" font-size="7.6" text-anchor="middle" fill="#000" stroke="#000" stroke-width="0.25">1022</text>
<text transform="translate(247.55,340.25) rotate(-90)" font-size="7.6" text-anchor="middle" fill="#000" stroke="#000" stroke-width="0.25">005</text>
<text transform="translate(261.35,311.10) rotate(-90)" font-size="7.6" text-anchor="middle" fill="#000" stroke="#000" stroke-width="0.25">1022</text>
<text transform="translate(261.35,340.25) rotate(-90)" font-size="7.6" text-anchor="middle" fill="#000" stroke="#000" stroke-width="0.25">001</text>
<text transform="translate(275.25,311.10) rotate(-90)" font-size="7.6" text-anchor="middle" fill="#000" stroke="#000" stroke-width="0.25">1019</text>
<text transform="translate(275.25,340.25) rotate(-90)" font-size="7.6" text-anchor="middle" fill="#000" stroke="#000" stroke-width="0.25">003</text>
<text transform="translate(289.25,311.10) rotate(-90)" font-size="7.6" text-anchor="middle" fill="#000" stroke="#000" stroke-width="0.25">1021</text>
<text transform="translate(289.25,340.25) rotate(-90)" font-size="7.6" text-anchor="middle" fill="#000" stroke="#000" stroke-width="0.25">003</text>
<text transform="translate(303.20,311.10) rotate(-90)" font-size="7.6" text-anchor="middle" fill="#000" stroke="#000" stroke-width="0.25">1021</text>
<text transform="translate(303.20,340.25) rotate(-90)" font-size="7.6" text-anchor="middle" fill="#000" stroke="#000" stroke-width="0.25">004</text>
<text transform="translate(317.00,311.10) rotate(-90)" font-size="7.6" text-anchor="middle" fill="#000" stroke="#000" stroke-width="0.25">1015</text>
<text transform="translate(317.00,340.25) rotate(-90)" font-size="7.6" text-anchor="middle" fill="#000" stroke="#000" stroke-width="0.25">004</text>
<text transform="translate(330.75,311.10) rotate(-90)" font-size="7.6" text-anchor="middle" fill="#000" stroke="#000" stroke-width="0.25">1022</text>
<text transform="translate(330.75,340.25) rotate(-90)" font-size="7.6" text-anchor="middle" fill="#000" stroke="#000" stroke-width="0.25">007</text>
<text transform="translate(344.55,311.10) rotate(-90)" font-size="7.6" text-anchor="middle" fill="#000" stroke="#000" stroke-width="0.25">1019</text>
<text transform="translate(344.55,340.25) rotate(-90)" font-size="7.6" text-anchor="middle" fill="#000" stroke="#000" stroke-width="0.25">001</text>
<text transform="translate(358.45,311.10) rotate(-90)" font-size="7.6" text-anchor="middle" fill="#000" stroke="#000" stroke-width="0.25">1024</text>
<text transform="translate(358.45,340.25) rotate(-90)" font-size="7.6" text-anchor="middle" fill="#000" stroke="#000" stroke-width="0.25">005</text>
<text transform="translate(382.65,311.10) rotate(-90)" font-size="7.6" text-anchor="middle" fill="#000" stroke="#000" stroke-width="0.25">1024</text>
<text transform="translate(382.65,340.25) rotate(-90)" font-size="7.6" text-anchor="middle" fill="#000" stroke="#000" stroke-width="0.25">001</text>
<text transform="translate(396.60,311.10) rotate(-90)" font-size="7.6" text-anchor="middle" fill="#000" stroke="#000" stroke-width="0.25">1015</text>
<text transform="translate(396.60,340.25) rotate(-90)" font-size="7.6" text-anchor="middle" fill="#000" stroke="#000" stroke-width="0.25">001</text>
<text transform="translate(410.55,311.10) rotate(-90)" font-size="7.6" text-anchor="middle" fill="#000" stroke="#000" stroke-width="0.25">1021</text>
<text transform="translate(410.55,340.25) rotate(-90)" font-size="7.6" text-anchor="middle" fill="#000" stroke="#000" stroke-width="0.25">001</text>
<text transform="translate(424.45,311.10) rotate(-90)" font-size="7.6" text-anchor="middle" fill="#000" stroke="#000" stroke-width="0.25">1021</text>
<text transform="translate(424.45,340.25) rotate(-90)" font-size="7.6" text-anchor="middle" fill="#000" stroke="#000" stroke-width="0.25">005</text>
<text transform="translate(438.30,311.10) rotate(-90)" font-size="7.6" text-anchor="middle" fill="#000" stroke="#000" stroke-width="0.25">1002</text>
<text transform="translate(438.30,340.25) rotate(-90)" font-size="7.6" text-anchor="middle" fill="#000" stroke="#000" stroke-width="0.25">001</text>
<text transform="translate(452.15,311.10) rotate(-90)" font-size="7.6" text-anchor="middle" fill="#000" stroke="#000" stroke-width="0.25">1001</text>
<text transform="translate(452.15,340.25) rotate(-90)" font-size="7.6" text-anchor="middle" fill="#000" stroke="#000" stroke-width="0.25">001</text>
<text transform="translate(465.90,311.10) rotate(-90)" font-size="7.6" text-anchor="middle" fill="#000" stroke="#000" stroke-width="0.25">1001</text>
<text transform="translate(465.90,340.25) rotate(-90)" font-size="7.6" text-anchor="middle" fill="#000" stroke="#000" stroke-width="0.25">005</text>
<text transform="translate(479.75,311.10) rotate(-90)" font-size="7.6" text-anchor="middle" fill="#000" stroke="#000" stroke-width="0.25">1003</text>
<text transform="translate(479.75,340.25) rotate(-90)" font-size="7.6" text-anchor="middle" fill="#000" stroke="#000" stroke-width="0.25">003</text>
<text transform="translate(493.70,311.10) rotate(-90)" font-size="7.6" text-anchor="middle" fill="#000" stroke="#000" stroke-width="0.25">1015</text>
<text transform="translate(493.70,340.25) rotate(-90)" font-size="7.6" text-anchor="middle" fill="#000" stroke="#000" stroke-width="0.25">002</text>
<text transform="translate(507.50,311.10) rotate(-90)" font-size="7.6" text-anchor="middle" fill="#000" stroke="#000" stroke-width="0.25">1024</text>
<text transform="translate(507.50,340.25) rotate(-90)" font-size="7.6" text-anchor="middle" fill="#000" stroke="#000" stroke-width="0.25">007</text>
<line x1="237.80" y1="295.50" x2="511.40" y2="295.50" stroke="#777" stroke-width="1.0" />
<line x1="237.80" y1="325.50" x2="362.50" y2="325.50" stroke="#555" stroke-width="1.0" />
<line x1="372.70" y1="325.50" x2="511.40" y2="325.50" stroke="#555" stroke-width="1.0" />
<rect x="237.80" y="353.80" width="273.60" height="2.2" fill="#a8a8a8"/>
<line x1="251.50" y1="295.50" x2="251.50" y2="353.80" stroke="#444" stroke-width="0.8" />
<line x1="265.40" y1="295.50" x2="265.40" y2="353.80" stroke="#444" stroke-width="0.8" />
<line x1="279.30" y1="295.50" x2="279.30" y2="353.80" stroke="#444" stroke-width="0.8" />
<line x1="293.40" y1="295.50" x2="293.40" y2="353.80" stroke="#444" stroke-width="0.8" />
<line x1="307.20" y1="295.50" x2="307.20" y2="353.80" stroke="#444" stroke-width="0.8" />
<line x1="321.00" y1="295.50" x2="321.00" y2="353.80" stroke="#444" stroke-width="0.8" />
<line x1="334.70" y1="295.50" x2="334.70" y2="353.80" stroke="#444" stroke-width="0.8" />
<line x1="348.60" y1="295.50" x2="348.60" y2="353.80" stroke="#444" stroke-width="0.8" />
<line x1="386.80" y1="295.50" x2="386.80" y2="353.80" stroke="#444" stroke-width="0.8" />
<line x1="400.60" y1="295.50" x2="400.60" y2="353.80" stroke="#444" stroke-width="0.8" />
<line x1="414.70" y1="295.50" x2="414.70" y2="353.80" stroke="#444" stroke-width="0.8" />
<line x1="428.40" y1="295.50" x2="428.40" y2="353.80" stroke="#444" stroke-width="0.8" />
<line x1="442.40" y1="295.50" x2="442.40" y2="353.80" stroke="#444" stroke-width="0.8" />
<line x1="456.10" y1="295.50" x2="456.10" y2="353.80" stroke="#444" stroke-width="0.8" />
<line x1="469.90" y1="295.50" x2="469.90" y2="353.80" stroke="#444" stroke-width="0.8" />
<line x1="483.80" y1="295.50" x2="483.80" y2="353.80" stroke="#444" stroke-width="0.8" />
<line x1="497.80" y1="295.50" x2="497.80" y2="353.80" stroke="#444" stroke-width="0.8" />
<line x1="237.80" y1="295.50" x2="237.80" y2="353.80" stroke="#bbb" stroke-width="0.8" />
<line x1="362.50" y1="295.50" x2="362.50" y2="353.80" stroke="#444" stroke-width="0.8" />
<line x1="363.90" y1="295.50" x2="363.90" y2="353.80" stroke="#888" stroke-width="0.8" />
<line x1="372.70" y1="295.50" x2="372.70" y2="353.80" stroke="#444" stroke-width="0.8" />
<line x1="511.40" y1="295.50" x2="511.40" y2="353.80" stroke="#999" stroke-width="0.8" />
</svg>
</body></html>
